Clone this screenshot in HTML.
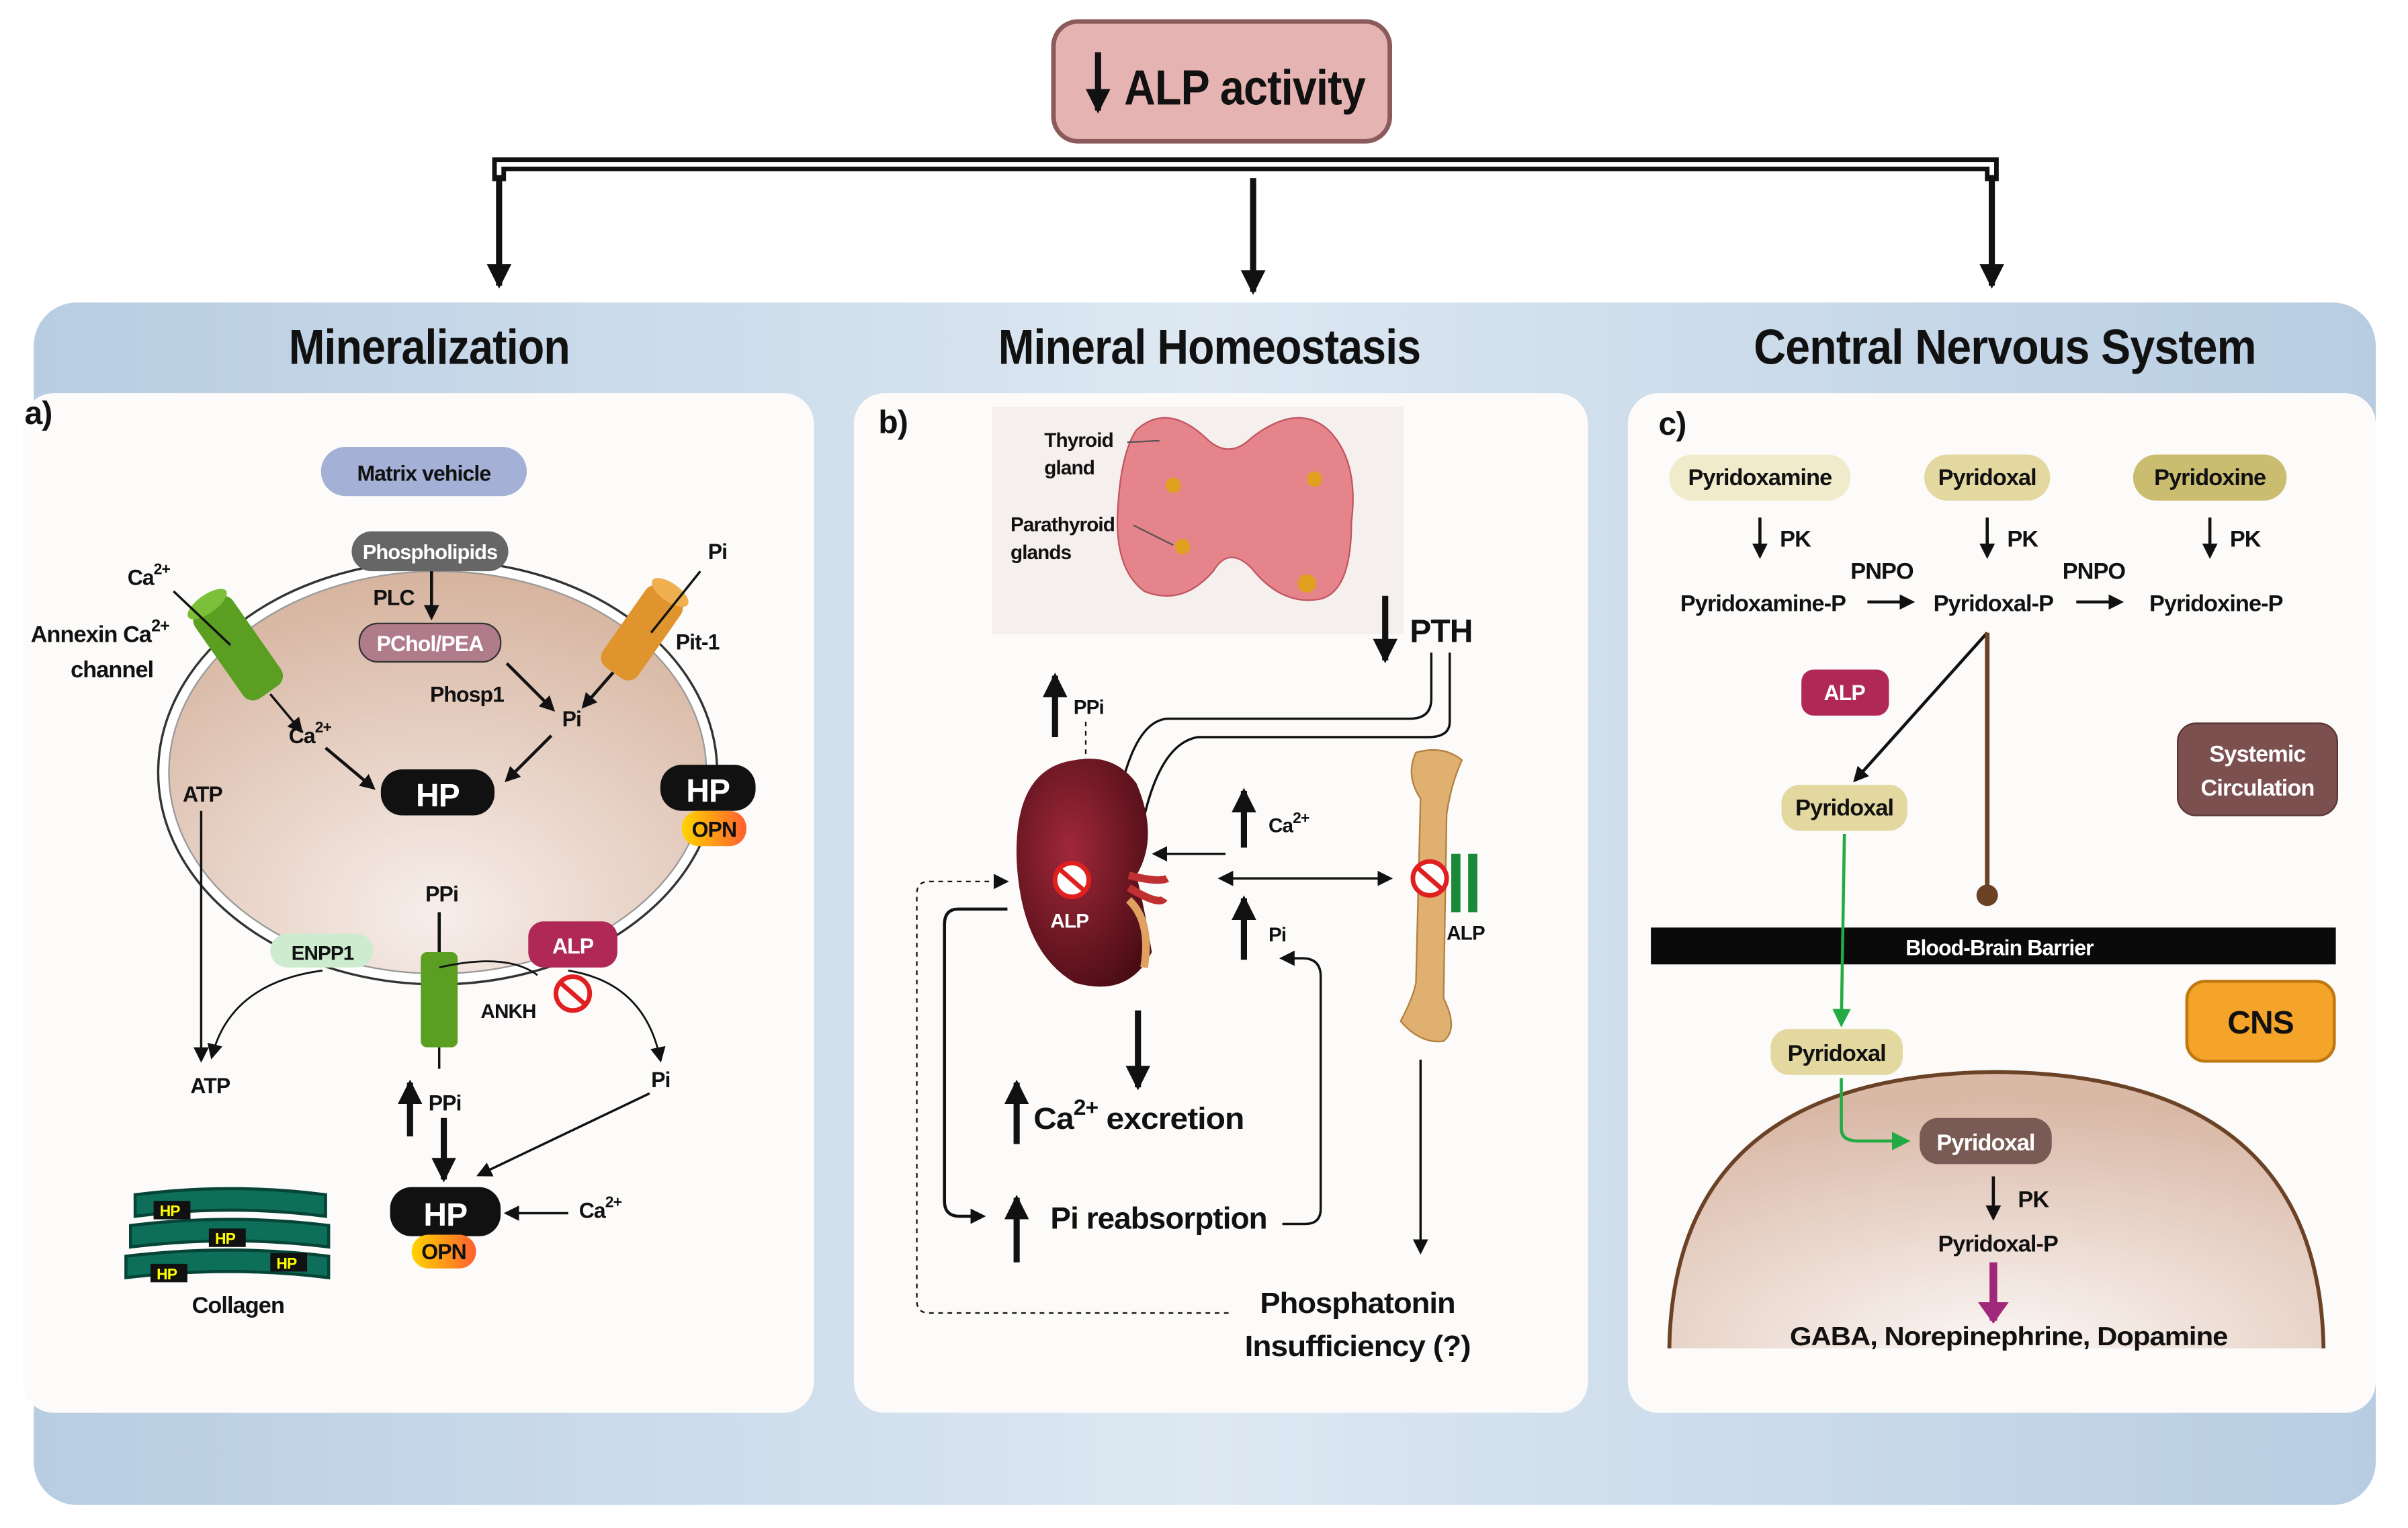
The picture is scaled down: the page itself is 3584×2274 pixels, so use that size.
<!DOCTYPE html>
<html><head><meta charset="utf-8"><style>
html,body{margin:0;padding:0;background:#fff;}
svg{display:block;}
text{font-family:"Liberation Sans Narrow","Liberation Sans",sans-serif;font-weight:bold;fill:#111;letter-spacing:-0.4px;}
</style></head><body>
<svg width="3584" height="2274" viewBox="0 0 1568 995" preserveAspectRatio="none" xmlns="http://www.w3.org/2000/svg">
<defs>
<linearGradient id="band" x1="0" y1="0" x2="1" y2="0"><stop offset="0" stop-color="#b8cde2"/><stop offset="0.5" stop-color="#dde8f2"/><stop offset="1" stop-color="#b8cde2"/></linearGradient>
<radialGradient id="cell" cx="0.5" cy="0.85" r="0.9"><stop offset="0" stop-color="#f7eeea"/><stop offset="1" stop-color="#d4b09a"/></radialGradient>
<radialGradient id="cns" cx="0.5" cy="1" r="0.9"><stop offset="0" stop-color="#fbf7f5"/><stop offset="1" stop-color="#d9b8a6"/></radialGradient>
<linearGradient id="opn" x1="0" y1="0" x2="1" y2="0"><stop offset="0" stop-color="#ffd400"/><stop offset="1" stop-color="#ff6030"/></linearGradient>
<radialGradient id="kid" cx="0.4" cy="0.4" r="0.7"><stop offset="0" stop-color="#a0283a"/><stop offset="1" stop-color="#4a0c14"/></radialGradient>
<marker id="ah" markerWidth="10" markerHeight="10" refX="8" refY="5" orient="auto" markerUnits="userSpaceOnUse"><path d="M0,0 L10,5 L0,10 z" fill="#111"/></marker>
<marker id="ahb" markerWidth="16" markerHeight="16" refX="14" refY="8" orient="auto" markerUnits="userSpaceOnUse"><path d="M0,0 L16,8 L0,16 z" fill="#111"/></marker>
<marker id="ahg" markerWidth="12" markerHeight="12" refX="10" refY="6" orient="auto" markerUnits="userSpaceOnUse"><path d="M0,0 L12,6 L0,12 z" fill="#22aa44"/></marker>
</defs>
<rect width="1568" height="995" fill="#fff"/>
<rect x="22" y="197" width="1525" height="783" rx="28" fill="url(#band)"/>
<rect x="15" y="256" width="515" height="664" rx="20" fill="#fcfbf9"/>
<rect x="556" y="256" width="478" height="664" rx="20" fill="#fcfbf9"/>
<rect x="1060" y="256" width="487" height="664" rx="20" fill="#fcfbf9"/>
<rect x="686" y="14" width="219" height="78" rx="16" fill="#e6b3b3" stroke="#8b5b5b" stroke-width="3"/>
<line x1="715" y1="34" x2="715" y2="72" stroke="#111" stroke-width="4" marker-end="url(#ahb)"/>
<text x="732" y="68" font-size="32" textLength="157" lengthAdjust="spacingAndGlyphs">ALP activity</text>
<path d="M325,118 V107 H1297 V118" fill="none" stroke="#111" stroke-width="9"/>
<path d="M325,118 V107 H1297 V118" fill="none" stroke="#fff" stroke-width="3"/>
<line x1="325" y1="114" x2="325" y2="186" stroke="#111" stroke-width="4" marker-end="url(#ahb)"/>
<line x1="816" y1="116" x2="816" y2="190" stroke="#111" stroke-width="4" marker-end="url(#ahb)"/>
<line x1="1297" y1="114" x2="1297" y2="186" stroke="#111" stroke-width="4" marker-end="url(#ahb)"/>
<text x="188" y="237" font-size="32" textLength="183" lengthAdjust="spacingAndGlyphs">Mineralization</text>
<text x="650" y="237" font-size="32" textLength="275" lengthAdjust="spacingAndGlyphs">Mineral Homeostasis</text>
<text x="1142" y="237" font-size="32" textLength="327" lengthAdjust="spacingAndGlyphs">Central Nervous  System</text>
<text x="16" y="276" font-size="21">a)</text>
<text x="572" y="282" font-size="21">b)</text>
<text x="1080" y="283" font-size="21">c)</text>

<rect x="209" y="291" width="134" height="32" rx="16" fill="#a4b0d6"/>
<text x="276" y="313" font-size="14" text-anchor="middle">Matrix vehicle</text>
<ellipse cx="285" cy="503" rx="182" ry="138" fill="#fff" stroke="#333" stroke-width="1.5"/>
<ellipse cx="285" cy="503" rx="175" ry="131" fill="url(#cell)" stroke="#999" stroke-width="1"/>
<rect x="229" y="346" width="102" height="26" rx="13" fill="#666"/>
<text x="280" y="364" font-size="13.5" text-anchor="middle" style="fill:#fff">Phospholipids</text>
<line x1="281" y1="372" x2="281" y2="402" stroke="#111" stroke-width="2" marker-end="url(#ah)"/>
<text x="243" y="394" font-size="14">PLC</text>
<rect x="234" y="406" width="92" height="25" rx="12" fill="#b07b8a" stroke="#333"/>
<text x="280" y="424" font-size="14" text-anchor="middle" style="fill:#fff">PChol/PEA</text>
<text x="280" y="457" font-size="14">Phosp1</text>
<line x1="330" y1="432" x2="360" y2="462" stroke="#111" stroke-width="2" marker-end="url(#ah)"/>
<text x="366" y="473" font-size="14">Pi</text>
<line x1="400" y1="437" x2="380" y2="460" stroke="#111" stroke-width="2" marker-end="url(#ah)"/>
<line x1="359" y1="479" x2="330" y2="508" stroke="#111" stroke-width="2" marker-end="url(#ah)"/>
<text x="188" y="484" font-size="14">Ca<tspan dy="-7" font-size="10">2+</tspan></text>
<line x1="212" y1="487" x2="243" y2="513" stroke="#111" stroke-width="2" marker-end="url(#ah)"/>
<g transform="translate(155,422) rotate(-35)"><rect x="-15" y="-35" width="30" height="70" rx="8" fill="#5a9e22"/><ellipse cx="0" cy="-35" rx="15" ry="6" fill="#7cc03a"/></g>
<line x1="113" y1="385" x2="150" y2="420" stroke="#111" stroke-width="1.5"/>
<line x1="176" y1="452" x2="196" y2="476" stroke="#111" stroke-width="1.5" marker-end="url(#ah)"/>
<text x="83" y="381" font-size="14">Ca<tspan dy="-7" font-size="10">2+</tspan></text>
<text x="20" y="418" font-size="15">Annexin Ca<tspan dy="-7" font-size="11">2+</tspan></text>
<text x="46" y="441" font-size="15">channel</text>
<g transform="translate(418,412) rotate(35)"><rect x="-14" y="-32" width="28" height="64" rx="8" fill="#e0942e"/><ellipse cx="0" cy="-32" rx="14" ry="6" fill="#f0b050"/></g>
<line x1="456" y1="372" x2="424" y2="412" stroke="#111" stroke-width="1.5"/>
<text x="461" y="364" font-size="14">Pi</text>
<text x="440" y="423" font-size="14">Pit-1</text>
<rect x="248" y="501" width="74" height="30" rx="14" fill="#111"/>
<text x="285" y="525" font-size="21" text-anchor="middle" style="fill:#fff">HP</text>
<rect x="430" y="498" width="62" height="30" rx="14" fill="#111"/>
<text x="461" y="522" font-size="21" text-anchor="middle" style="fill:#fff">HP</text>
<rect x="444" y="528" width="42" height="23" rx="11" fill="url(#opn)"/>
<text x="465" y="545" font-size="14" text-anchor="middle">OPN</text>
<text x="119" y="522" font-size="14">ATP</text>
<line x1="131" y1="528" x2="131" y2="690" stroke="#111" stroke-width="1.5" marker-end="url(#ah)"/>
<text x="124" y="712" font-size="14">ATP</text>
<rect x="176" y="608" width="67" height="22" rx="11" fill="#cdebcf"/>
<text x="210" y="625" font-size="13" text-anchor="middle">ENPP1</text>
<path d="M210,632 Q150,640 138,688" fill="none" stroke="#111" stroke-width="1.2" marker-end="url(#ah)"/>
<text x="277" y="587" font-size="14">PPi</text>
<line x1="286" y1="594" x2="286" y2="622" stroke="#111" stroke-width="2"/>
<rect x="274" y="620" width="24" height="62" rx="4" fill="#5a9e22"/>
<text x="313" y="663" font-size="13">ANKH</text>
<rect x="344" y="600" width="58" height="30" rx="10" fill="#b02855"/>
<text x="373" y="621" font-size="14" text-anchor="middle" style="fill:#fff">ALP</text>
<circle cx="373" cy="647" r="11" fill="none" stroke="#e02020" stroke-width="3"/>
<line x1="365" y1="640" x2="381" y2="654" stroke="#e02020" stroke-width="3"/>
<path d="M370,632 Q420,640 430,690" fill="none" stroke="#111" stroke-width="1.2" marker-end="url(#ah)"/>
<text x="424" y="708" font-size="14">Pi</text>
<path d="M286,630 Q330,620 350,635" fill="none" stroke="#111" stroke-width="1.2"/>
<line x1="286" y1="682" x2="286" y2="696" stroke="#111" stroke-width="1.5"/>
<line x1="267" y1="740" x2="267" y2="705" stroke="#111" stroke-width="4" marker-end="url(#ahb)"/>
<text x="279" y="723" font-size="14">PPi</text>
<line x1="289" y1="728" x2="289" y2="768" stroke="#111" stroke-width="4" marker-end="url(#ahb)"/>
<line x1="423" y1="712" x2="312" y2="765" stroke="#111" stroke-width="1.5" marker-end="url(#ah)"/>
<rect x="254" y="773" width="72" height="32" rx="14" fill="#111"/>
<text x="290" y="798" font-size="21" text-anchor="middle" style="fill:#fff">HP</text>
<rect x="268" y="804" width="42" height="22" rx="11" fill="url(#opn)"/>
<text x="289" y="820" font-size="14" text-anchor="middle">OPN</text>
<line x1="370" y1="790" x2="330" y2="790" stroke="#111" stroke-width="1.5" marker-end="url(#ah)"/>
<text x="377" y="793" font-size="14">Ca<tspan dy="-7" font-size="10">2+</tspan></text>
<g fill="#0d6e5a" stroke="#064438" stroke-width="2">
<path d="M88,778 Q150,770 212,778 L212,792 Q150,784 88,792 z"/>
<path d="M85,798 Q150,790 214,798 L214,812 Q150,804 85,812 z"/>
<path d="M82,818 Q150,810 214,818 L214,832 Q150,824 82,832 z"/>
</g>
<g font-size="10"><rect x="100" y="782" width="24" height="12" fill="#111"/><text x="104" y="792" style="fill:#ff0">HP</text>
<rect x="136" y="800" width="24" height="12" fill="#111"/><text x="140" y="810" style="fill:#ff0">HP</text>
<rect x="98" y="823" width="24" height="12" fill="#111"/><text x="102" y="833" style="fill:#ff0">HP</text>
<rect x="176" y="816" width="24" height="12" fill="#111"/><text x="180" y="826" style="fill:#ff0">HP</text></g>
<text x="155" y="855" font-size="15" text-anchor="middle">Collagen</text>

<rect x="646" y="265" width="268" height="148" fill="#f5f0ee"/>
<path d="M740,280 Q760,262 785,285 Q800,300 815,285 Q845,262 865,280 Q885,300 880,340 Q880,385 860,390 Q835,395 815,370 Q800,355 790,372 Q770,395 745,385 Q725,370 728,330 Q730,295 740,280 z" fill="#e6848c" stroke="#c05560"/>
<g fill="#e0a020"><circle cx="764" cy="316" r="5"/><circle cx="856" cy="312" r="5"/><circle cx="770" cy="356" r="5"/><circle cx="851" cy="380" r="6"/></g>
<text x="680" y="291" font-size="13">Thyroid</text><text x="680" y="309" font-size="13">gland</text>
<text x="658" y="346" font-size="13">Parathyroid</text><text x="658" y="364" font-size="13">glands</text>
<line x1="734" y1="288" x2="755" y2="287" stroke="#555"/><line x1="738" y1="342" x2="764" y2="355" stroke="#555"/>
<line x1="902" y1="388" x2="902" y2="430" stroke="#111" stroke-width="4" marker-end="url(#ahb)"/>
<text x="918" y="418" font-size="21">PTH</text>
<path d="M932,425 V455 Q932,468 918,468 H760 Q735,470 725,540" fill="none" stroke="#111" stroke-width="1.5" marker-end="url(#ah)"/>
<path d="M944,425 V470 Q944,480 930,480 H780 Q750,485 740,560" fill="none" stroke="#111" stroke-width="1.5" marker-end="url(#ah)"/>
<line x1="687" y1="480" x2="687" y2="440" stroke="#111" stroke-width="4" marker-end="url(#ahb)"/>
<text x="699" y="465" font-size="13">PPi</text>
<line x1="707" y1="470" x2="707" y2="540" stroke="#111" stroke-dasharray="3,3" marker-end="url(#ah)"/>
<path d="M700,495 Q660,500 662,560 Q665,620 700,640 Q735,650 750,620 Q745,590 740,570 Q755,545 740,510 Q725,490 700,495 z" fill="url(#kid)"/>
<path d="M735,570 Q755,575 760,572 M735,578 Q755,590 758,585" stroke="#c03030" stroke-width="5" fill="none"/>
<path d="M735,586 Q750,600 745,630" stroke="#e0a060" stroke-width="5" fill="none"/>
<circle cx="698" cy="573" r="11" fill="#fff" stroke="#e02020" stroke-width="3"/>
<line x1="690" y1="566" x2="706" y2="580" stroke="#e02020" stroke-width="3"/>
<text x="684" y="604" font-size="13" style="fill:#fff">ALP</text>
<line x1="798" y1="556" x2="752" y2="556" stroke="#111" stroke-width="1.5" marker-end="url(#ah)"/>
<line x1="810" y1="552" x2="810" y2="515" stroke="#111" stroke-width="4" marker-end="url(#ahb)"/>
<text x="826" y="542" font-size="13">Ca<tspan dy="-6" font-size="10">2+</tspan></text>
<line x1="830" y1="572" x2="905" y2="572" stroke="#111" stroke-width="1.5" marker-end="url(#ah)"/>
<line x1="830" y1="572" x2="795" y2="572" stroke="#111" stroke-width="1.5" marker-end="url(#ah)"/>
<line x1="810" y1="625" x2="810" y2="585" stroke="#111" stroke-width="4" marker-end="url(#ahb)"/>
<text x="826" y="613" font-size="13">Pi</text>
<path d="M922,490 Q940,485 952,495 Q945,510 942,530 L940,650 Q950,670 940,678 Q925,680 912,665 Q920,650 922,640 L925,520 Q915,505 922,490 z" fill="#e0b070" stroke="#b08040"/>
<rect x="945" y="556" width="6" height="38" fill="#1a8a3a"/><rect x="956" y="556" width="6" height="38" fill="#1a8a3a"/>
<circle cx="931" cy="572" r="11" fill="#fff" stroke="#e02020" stroke-width="3"/>
<line x1="923" y1="565" x2="939" y2="579" stroke="#e02020" stroke-width="3"/>
<text x="942" y="612" font-size="13">ALP</text>
<line x1="741" y1="658" x2="741" y2="708" stroke="#111" stroke-width="4" marker-end="url(#ahb)"/>
<line x1="662" y1="745" x2="662" y2="705" stroke="#111" stroke-width="4" marker-end="url(#ahb)"/>
<text x="673" y="735" font-size="20" textLength="137" lengthAdjust="spacingAndGlyphs">Ca<tspan dy="-9" font-size="14">2+</tspan><tspan dy="9"> excretion</tspan></text>
<line x1="662" y1="822" x2="662" y2="780" stroke="#111" stroke-width="4" marker-end="url(#ahb)"/>
<text x="684" y="800" font-size="20" textLength="141" lengthAdjust="spacingAndGlyphs">Pi reabsorption</text>
<path d="M656,592 H624 Q615,592 615,602 V782 Q615,792 625,792 H640" fill="none" stroke="#111" stroke-width="2" marker-end="url(#ah)"/>
<path d="M835,797 H850 Q860,797 860,787 V636 Q860,624 848,624 H835" fill="none" stroke="#111" stroke-width="1.5" marker-end="url(#ah)"/>
<path d="M800,855 H605 Q597,855 597,847 V582 Q597,574 605,574 H655" fill="none" stroke="#111" stroke-dasharray="3,3" marker-end="url(#ah)"/>
<line x1="925" y1="690" x2="925" y2="815" stroke="#111" stroke-width="1.5" marker-end="url(#ah)"/>
<text x="884" y="855" font-size="19" text-anchor="middle" textLength="127" lengthAdjust="spacingAndGlyphs">Phosphatonin</text>
<text x="884" y="883" font-size="19" text-anchor="middle" textLength="147" lengthAdjust="spacingAndGlyphs">Insufficiency (?)</text>

<rect x="1087" y="296" width="118" height="30" rx="15" fill="#efebcb"/>
<text x="1146" y="316" font-size="15" text-anchor="middle">Pyridoxamine</text>
<rect x="1253" y="296" width="82" height="30" rx="15" fill="#e3d9a0"/>
<text x="1294" y="316" font-size="15" text-anchor="middle">Pyridoxal</text>
<rect x="1389" y="296" width="100" height="30" rx="15" fill="#cbbd70"/>
<text x="1439" y="316" font-size="15" text-anchor="middle">Pyridoxine</text>
<g stroke="#111" stroke-width="2"><line x1="1146" y1="337" x2="1146" y2="362" marker-end="url(#ah)"/><line x1="1294" y1="337" x2="1294" y2="362" marker-end="url(#ah)"/><line x1="1439" y1="337" x2="1439" y2="362" marker-end="url(#ah)"/>
<line x1="1216" y1="392" x2="1245" y2="392" marker-end="url(#ah)"/><line x1="1352" y1="392" x2="1381" y2="392" marker-end="url(#ah)"/></g>
<g font-size="15"><text x="1159" y="356">PK</text><text x="1307" y="356">PK</text><text x="1452" y="356">PK</text>
<text x="1205" y="377">PNPO</text><text x="1343" y="377">PNPO</text>
<text x="1148" y="398" text-anchor="middle">Pyridoxamine-P</text><text x="1298" y="398" text-anchor="middle">Pyridoxal-P</text><text x="1443" y="398" text-anchor="middle">Pyridoxine-P</text></g>
<rect x="1173" y="436" width="57" height="30" rx="8" fill="#b02855"/>
<text x="1201" y="456" font-size="14" text-anchor="middle" style="fill:#fff">ALP</text>
<line x1="1294" y1="412" x2="1208" y2="508" stroke="#111" stroke-width="2" marker-end="url(#ah)"/>
<line x1="1294" y1="412" x2="1294" y2="580" stroke="#6b4226" stroke-width="3"/>
<circle cx="1294" cy="583" r="7" fill="#6b4226"/>
<rect x="1418" y="471" width="104" height="60" rx="12" fill="#7d5050" stroke="#5a3535"/>
<text x="1470" y="496" font-size="15" text-anchor="middle" style="fill:#fff">Systemic</text>
<text x="1470" y="518" font-size="15" text-anchor="middle" style="fill:#fff">Circulation</text>
<rect x="1160" y="511" width="82" height="30" rx="12" fill="#e3d9a0"/>
<text x="1201" y="531" font-size="15" text-anchor="middle">Pyridoxal</text>
<rect x="1075" y="604" width="446" height="24" fill="#0a0a0a"/>
<text x="1302" y="622" font-size="14" text-anchor="middle" style="fill:#fff">Blood-Brain Barrier</text>
<line x1="1201" y1="543" x2="1199" y2="667" stroke="#22aa44" stroke-width="2" marker-end="url(#ahg)"/>
<rect x="1424" y="639" width="96" height="52" rx="12" fill="#f5a42a" stroke="#c07810" stroke-width="2"/>
<text x="1472" y="673" font-size="21" text-anchor="middle">CNS</text>
<path d="M1087,878 Q1090,700 1300,698 Q1510,700 1513,878 z" fill="url(#cns)"/>
<path d="M1087,878 Q1090,700 1300,698 Q1510,700 1513,878" fill="none" stroke="#6b4226" stroke-width="2.5"/>
<rect x="1153" y="670" width="86" height="30" rx="12" fill="#e3d9a0"/>
<text x="1196" y="691" font-size="15" text-anchor="middle">Pyridoxal</text>
<path d="M1199,702 V735 Q1199,743 1210,743 H1242" fill="none" stroke="#22aa44" stroke-width="2" marker-end="url(#ahg)"/>
<rect x="1250" y="728" width="86" height="30" rx="12" fill="#7a5a55"/>
<text x="1293" y="749" font-size="15" text-anchor="middle" style="fill:#fff">Pyridoxal</text>
<line x1="1298" y1="766" x2="1298" y2="793" stroke="#111" stroke-width="2" marker-end="url(#ah)"/>
<text x="1314" y="786" font-size="15">PK</text>
<text x="1301" y="815" font-size="15" text-anchor="middle">Pyridoxal-P</text>
<line x1="1298" y1="822" x2="1298" y2="860" stroke="#a0287a" stroke-width="5"/>
<path d="M1288,848 L1308,848 L1298,862 z" fill="#a0287a"/>
<text x="1308" y="876" font-size="17" text-anchor="middle" textLength="285" lengthAdjust="spacingAndGlyphs">GABA, Norepinephrine, Dopamine</text>
</svg>
</body></html>
